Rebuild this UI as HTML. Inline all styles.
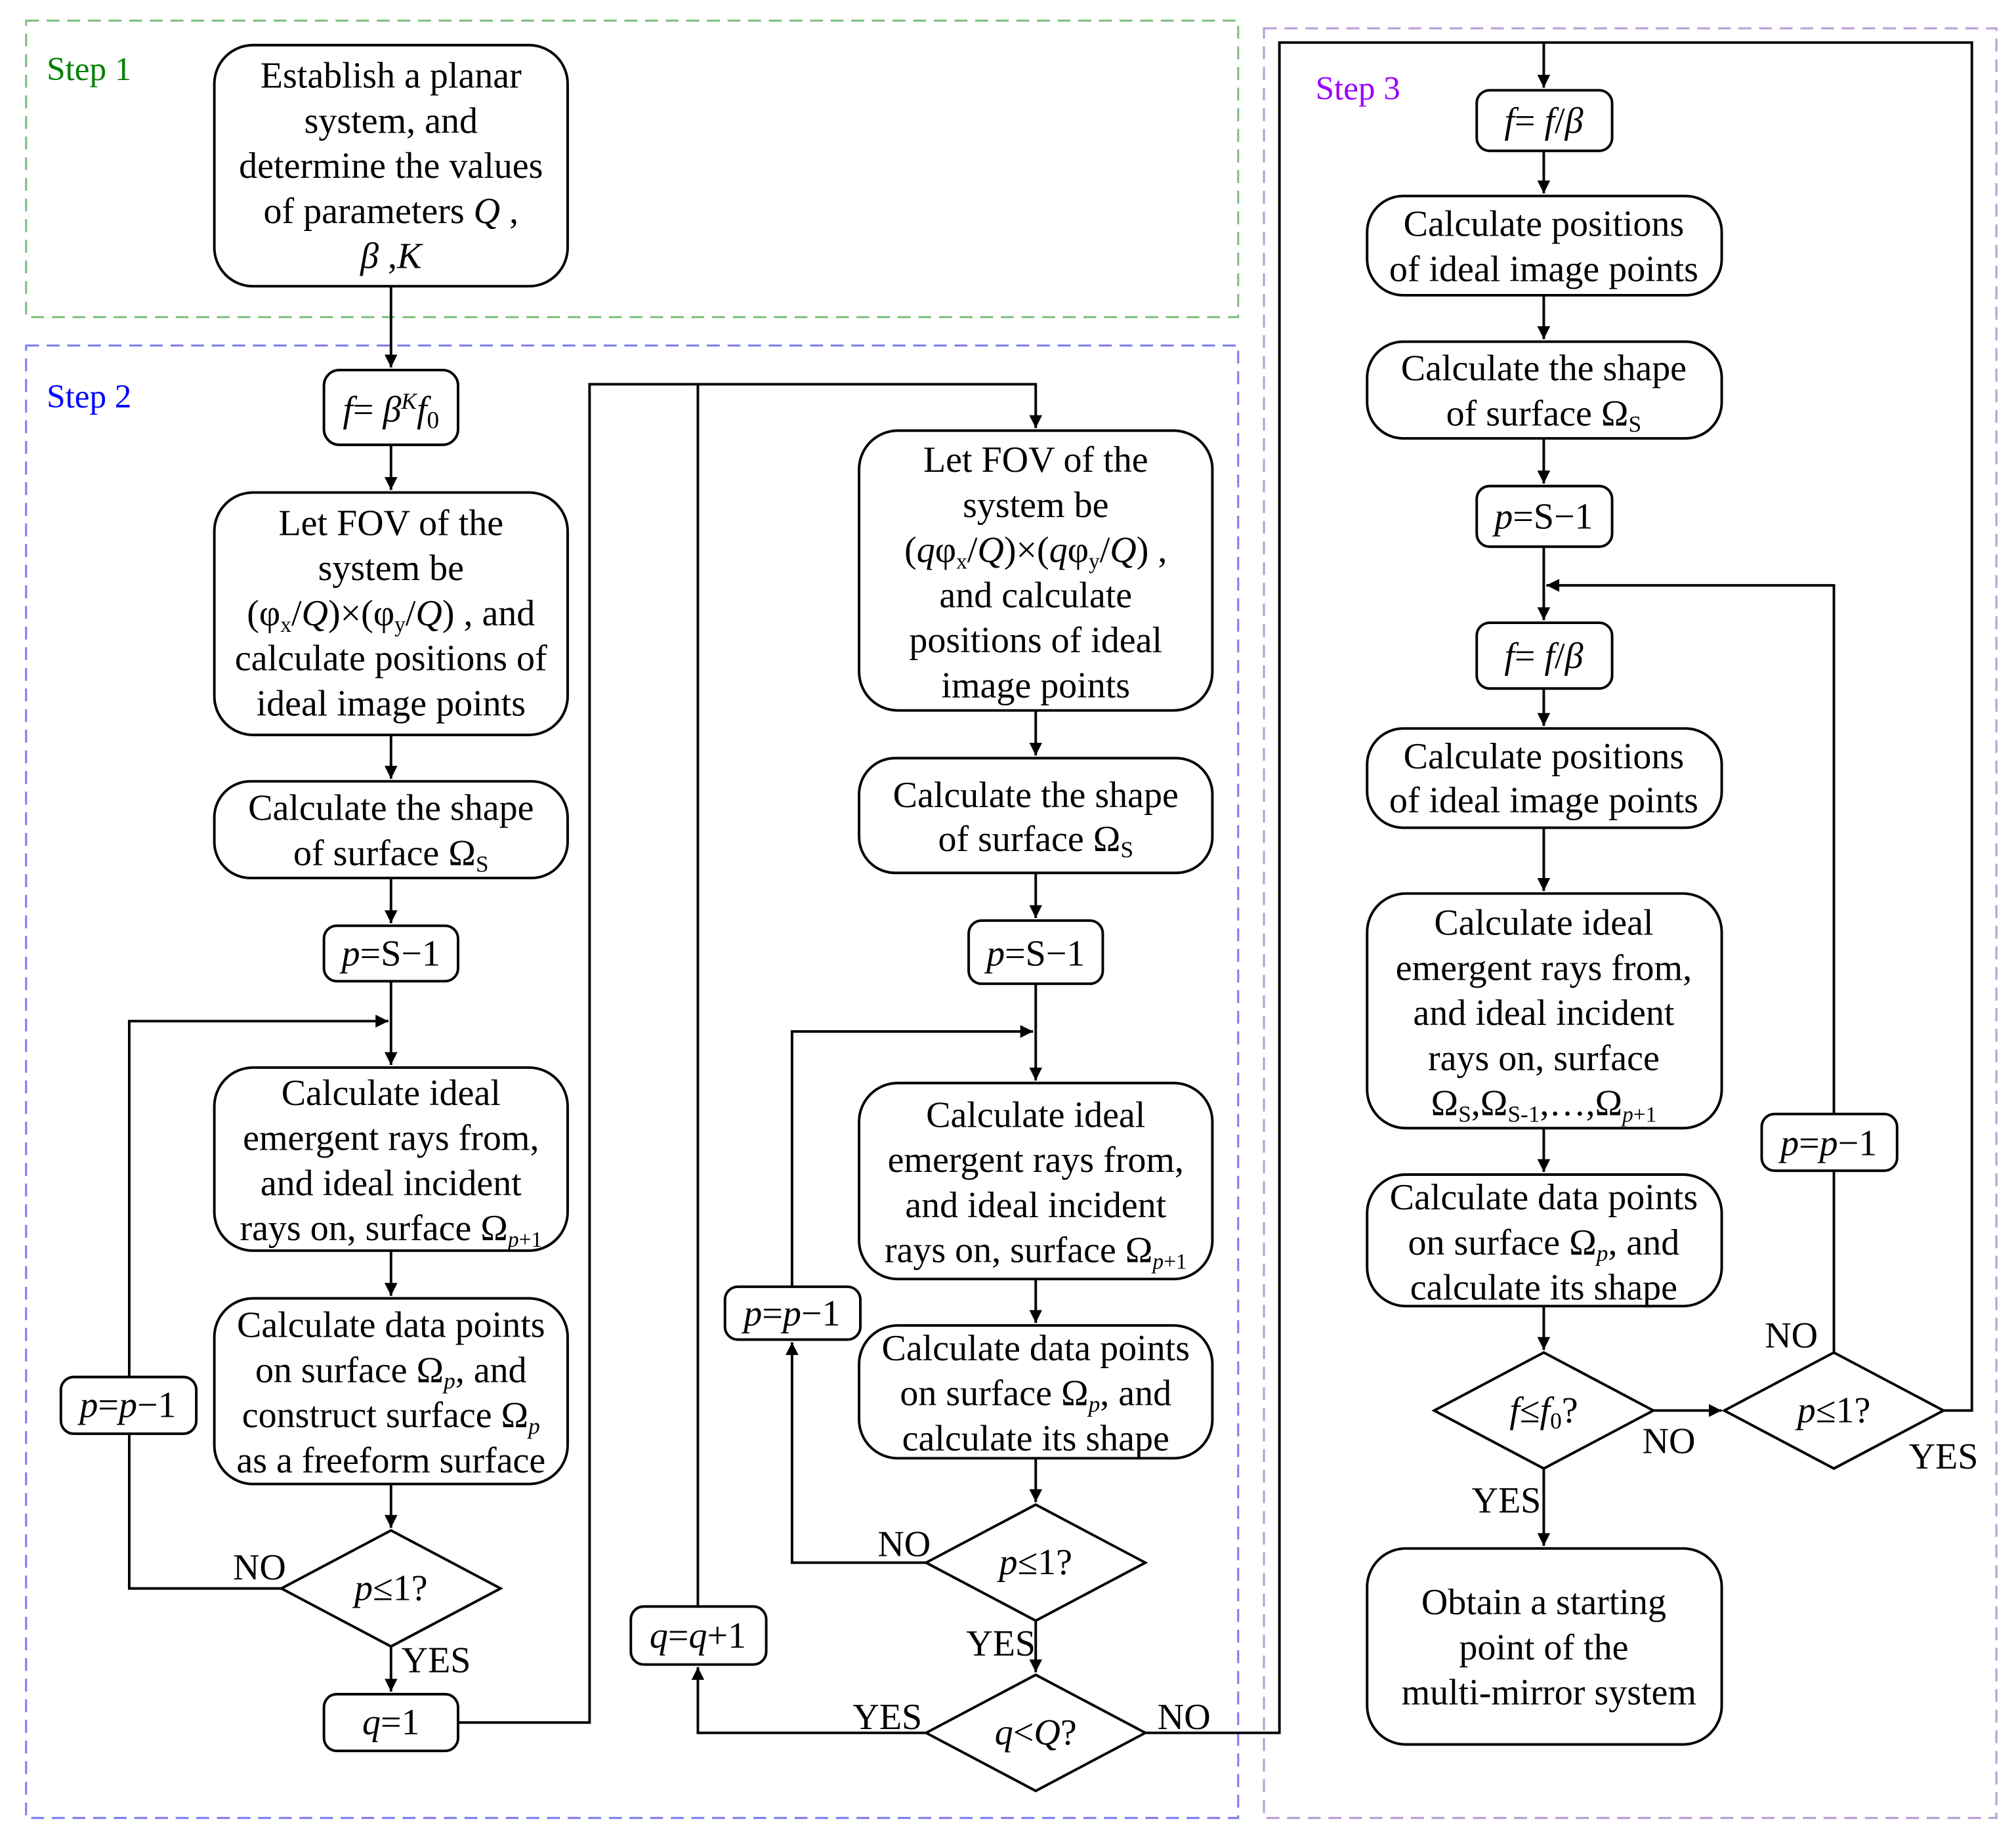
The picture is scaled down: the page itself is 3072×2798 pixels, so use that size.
<!DOCTYPE html>
<html><head><meta charset="utf-8"><style>
html,body{margin:0;padding:0;background:#fff}
svg{display:block}
text{font-family:"Liberation Serif",serif;font-size:28.5px;fill:#000}
.i{font-style:italic}
</style></head><body>
<svg width="3072" height="2798" viewBox="0 0 1563 1424" xmlns="http://www.w3.org/2000/svg">
<defs><marker id="a" markerWidth="12" markerHeight="12" refX="10" refY="5" orient="auto" markerUnits="userSpaceOnUse"><path d="M0,0 L10,5 L0,10 z" fill="#000"/></marker></defs>
<g fill="none" stroke-width="1.6" stroke-dasharray="10,6">
<rect x="20" y="16" width="940" height="230" stroke="#80c080"/>
<rect x="20" y="268" width="940" height="1142" stroke="#8080f0"/>
<rect x="980" y="22" width="568" height="1388" stroke="#b8a0d8"/>
</g>
<text x="36" y="62" style="fill:#008000;font-size:26px">Step 1</text>
<text x="36" y="316" style="fill:#0000ff;font-size:26px">Step 2</text>
<text x="1020" y="77" style="fill:#9900ff;font-size:26px">Step 3</text>
<g fill="#fff" stroke="#000" stroke-width="2">
<rect x="166" y="35" width="274" height="187" rx="30"/>
<rect x="251" y="287" width="104" height="58" rx="12"/>
<rect x="166" y="382" width="274" height="188" rx="30"/>
<rect x="166" y="606" width="274" height="75" rx="28"/>
<rect x="251" y="718" width="104" height="43" rx="10"/>
<rect x="166" y="828" width="274" height="142" rx="30"/>
<rect x="166" y="1007" width="274" height="144" rx="30"/>
<rect x="47" y="1068" width="105" height="44" rx="10"/>
<rect x="251" y="1314" width="104" height="44" rx="10"/>
<rect x="489" y="1246" width="105" height="45" rx="10"/>
<rect x="666" y="334" width="274" height="217" rx="30"/>
<rect x="666" y="588" width="274" height="89" rx="28"/>
<rect x="751" y="714" width="104" height="49" rx="10"/>
<rect x="666" y="840" width="274" height="152" rx="30"/>
<rect x="666" y="1028" width="274" height="103" rx="30"/>
<rect x="562" y="998" width="105" height="41" rx="10"/>
<rect x="1145" y="70" width="105" height="47" rx="10"/>
<rect x="1060" y="152" width="275" height="77" rx="28"/>
<rect x="1060" y="265" width="275" height="75" rx="28"/>
<rect x="1145" y="377" width="105" height="47" rx="10"/>
<rect x="1145" y="483" width="105" height="51" rx="10"/>
<rect x="1060" y="565" width="275" height="77" rx="28"/>
<rect x="1060" y="693" width="275" height="182" rx="30"/>
<rect x="1060" y="911" width="275" height="102" rx="30"/>
<rect x="1366" y="864" width="105" height="44" rx="10"/>
<rect x="1060" y="1201" width="275" height="152" rx="30"/>
<path d="M218,1232 L303,1187 L388,1232 L303,1277 Z"/>
<path d="M718,1212 L803,1167 L888,1212 L803,1257 Z"/>
<path d="M718,1344 L803,1299 L888,1344 L803,1389 Z"/>
<path d="M1112,1094 L1197,1049 L1282,1094 L1197,1139 Z"/>
<path d="M1337,1094 L1422,1049 L1507,1094 L1422,1139 Z"/>
</g>
<g fill="none" stroke="#000" stroke-width="2">
<path d="M303,222 V285" marker-end="url(#a)"/>
<path d="M303,345 V380" marker-end="url(#a)"/>
<path d="M303,570 V604" marker-end="url(#a)"/>
<path d="M303,681 V716" marker-end="url(#a)"/>
<path d="M303,761 V826" marker-end="url(#a)"/>
<path d="M100,1068 V792 H301" marker-end="url(#a)"/>
<path d="M218,1232 H100 V1112"/>
<path d="M303,970 V1005" marker-end="url(#a)"/>
<path d="M303,1151 V1185" marker-end="url(#a)"/>
<path d="M303,1277 V1312" marker-end="url(#a)"/>
<path d="M355,1336 H457 V298 H803 V332" marker-end="url(#a)"/>
<path d="M541,1246 V298"/>
<path d="M803,551 V586" marker-end="url(#a)"/>
<path d="M803,677 V712" marker-end="url(#a)"/>
<path d="M803,763 V838" marker-end="url(#a)"/>
<path d="M614,998 V800 H801" marker-end="url(#a)"/>
<path d="M718,1212 H614 V1041" marker-end="url(#a)"/>
<path d="M803,992 V1026" marker-end="url(#a)"/>
<path d="M803,1131 V1165" marker-end="url(#a)"/>
<path d="M803,1257 V1297" marker-end="url(#a)"/>
<path d="M718,1344 H541 V1293" marker-end="url(#a)"/>
<path d="M888,1344 H992 V33 H1529 V1094 H1507"/>
<path d="M1197,33 V68" marker-end="url(#a)"/>
<path d="M1197,117 V150" marker-end="url(#a)"/>
<path d="M1197,229 V263" marker-end="url(#a)"/>
<path d="M1197,340 V375" marker-end="url(#a)"/>
<path d="M1197,424 V481" marker-end="url(#a)"/>
<path d="M1422,864 V454 H1199" marker-end="url(#a)"/>
<path d="M1422,1049 V908"/>
<path d="M1197,534 V563" marker-end="url(#a)"/>
<path d="M1197,642 V691" marker-end="url(#a)"/>
<path d="M1197,875 V909" marker-end="url(#a)"/>
<path d="M1197,1013 V1047" marker-end="url(#a)"/>
<path d="M1282,1094 H1335" marker-end="url(#a)"/>
<path d="M1197,1139 V1199" marker-end="url(#a)"/>
</g>
<g text-anchor="middle">
<text x="303" y="68">Establish a planar</text>
<text x="303" y="103">system, and</text>
<text x="303" y="138">determine the values</text>
<text x="303" y="173">of parameters <tspan class="i">Q</tspan> ,</text>
<text x="303" y="208"><tspan class="i">β</tspan> ,<tspan class="i">K</tspan></text>
<text x="303" y="327"><tspan class="i">f</tspan>= <tspan class="i">β</tspan><tspan class="i" dy="-10" font-size="18">K</tspan><tspan class="i" dy="10">f</tspan><tspan dy="5" font-size="19">0</tspan></text>
<text x="303" y="415">Let FOV of the</text>
<text x="303" y="450">system be</text>
<text x="303" y="485">(φ<tspan font-size="17" dy="5">x</tspan><tspan dy="-5">/</tspan><tspan class="i">Q</tspan>)×(φ<tspan font-size="17" dy="5">y</tspan><tspan dy="-5">/</tspan><tspan class="i">Q</tspan>) , and</text>
<text x="303" y="520">calculate positions of</text>
<text x="303" y="555">ideal image points</text>
<text x="303" y="636">Calculate the shape</text>
<text x="303" y="671">of surface Ω<tspan font-size="18" dy="5">S</tspan></text>
<text x="303" y="749"><tspan class="i">p</tspan>=S−1</text>
<text x="303" y="857">Calculate ideal</text>
<text x="303" y="892">emergent rays from,</text>
<text x="303" y="927">and ideal incident</text>
<text x="303" y="962">rays on,  surface Ω<tspan font-size="17" dy="5" class="i">p</tspan><tspan font-size="17">+1</tspan></text>
<text x="303" y="1037">Calculate data points</text>
<text x="303" y="1072">on surface Ω<tspan font-size="18" dy="5" class="i">p</tspan><tspan dy="-5">, and</tspan></text>
<text x="303" y="1107">construct surface Ω<tspan font-size="18" dy="5" class="i">p</tspan></text>
<text x="303" y="1142">as a freeform surface</text>
<text x="99" y="1099"><tspan class="i">p</tspan>=<tspan class="i">p</tspan>−1</text>
<text x="303" y="1241"><tspan class="i">p</tspan>≤1?</text>
<text x="303" y="1345"><tspan class="i">q</tspan>=1</text>
<text x="541" y="1278"><tspan class="i">q</tspan>=<tspan class="i">q</tspan>+1</text>
<text x="803" y="366">Let FOV of the</text>
<text x="803" y="401">system be</text>
<text x="803" y="436">(<tspan class="i">q</tspan>φ<tspan font-size="17" dy="5">x</tspan><tspan dy="-5">/</tspan><tspan class="i">Q</tspan>)×(<tspan class="i">q</tspan>φ<tspan font-size="17" dy="5">y</tspan><tspan dy="-5">/</tspan><tspan class="i">Q</tspan>) ,</text>
<text x="803" y="471">and calculate</text>
<text x="803" y="506">positions of ideal</text>
<text x="803" y="541">image points</text>
<text x="803" y="626">Calculate the shape</text>
<text x="803" y="660">of surface Ω<tspan font-size="18" dy="5">S</tspan></text>
<text x="803" y="749"><tspan class="i">p</tspan>=S−1</text>
<text x="803" y="874">Calculate ideal</text>
<text x="803" y="909">emergent rays from,</text>
<text x="803" y="944">and ideal incident</text>
<text x="803" y="979">rays on,  surface Ω<tspan font-size="17" dy="5" class="i">p</tspan><tspan font-size="17">+1</tspan></text>
<text x="803" y="1055">Calculate data points</text>
<text x="803" y="1090">on surface Ω<tspan font-size="18" dy="5" class="i">p</tspan><tspan dy="-5">, and</tspan></text>
<text x="803" y="1125">calculate its shape</text>
<text x="614" y="1028"><tspan class="i">p</tspan>=<tspan class="i">p</tspan>−1</text>
<text x="803" y="1221"><tspan class="i">p</tspan>≤1?</text>
<text x="803" y="1353"><tspan class="i">q</tspan>&lt;<tspan class="i">Q</tspan>?</text>
<text x="1197" y="103"><tspan class="i">f</tspan>= <tspan class="i">f</tspan>/<tspan class="i">β</tspan></text>
<text x="1197" y="183">Calculate positions</text>
<text x="1197" y="218">of ideal image points</text>
<text x="1197" y="295">Calculate the shape</text>
<text x="1197" y="330">of surface Ω<tspan font-size="18" dy="5">S</tspan></text>
<text x="1197" y="410"><tspan class="i">p</tspan>=S−1</text>
<text x="1197" y="518"><tspan class="i">f</tspan>= <tspan class="i">f</tspan>/<tspan class="i">β</tspan></text>
<text x="1197" y="596">Calculate positions</text>
<text x="1197" y="630">of ideal image points</text>
<text x="1197" y="725">Calculate ideal</text>
<text x="1197" y="760">emergent rays from,</text>
<text x="1197" y="795">and ideal incident</text>
<text x="1197" y="830">rays on, surface</text>
<text x="1197" y="865">Ω<tspan font-size="18" dy="5">S</tspan><tspan dy="-5">,Ω</tspan><tspan font-size="18" dy="5">S-1</tspan><tspan dy="-5">,…,Ω</tspan><tspan font-size="17" dy="5" class="i">p</tspan><tspan font-size="17">+1</tspan></text>
<text x="1197" y="938">Calculate data points</text>
<text x="1197" y="973">on surface Ω<tspan font-size="18" dy="5" class="i">p</tspan><tspan dy="-5">, and</tspan></text>
<text x="1197" y="1008">calculate its shape</text>
<text x="1418" y="896"><tspan class="i">p</tspan>=<tspan class="i">p</tspan>−1</text>
<text x="1197" y="1103"><tspan class="i">f</tspan>≤<tspan class="i">f</tspan><tspan font-size="18" dy="5">0</tspan><tspan dy="-5">?</tspan></text>
<text x="1422" y="1103"><tspan class="i">p</tspan>≤1?</text>
<text x="1197" y="1252">Obtain a starting</text>
<text x="1197" y="1287">point of the</text>
<text x="1201" y="1322">multi-mirror system</text>
<text x="201" y="1225">NO</text>
<text x="338" y="1297">YES</text>
<text x="701" y="1207">NO</text>
<text x="776" y="1284">YES</text>
<text x="688" y="1341">YES</text>
<text x="918" y="1341">NO</text>
<text x="1294" y="1127">NO</text>
<text x="1389" y="1045">NO</text>
<text x="1507" y="1139">YES</text>
<text x="1168" y="1173">YES</text>
</g>
</svg>
</body></html>
